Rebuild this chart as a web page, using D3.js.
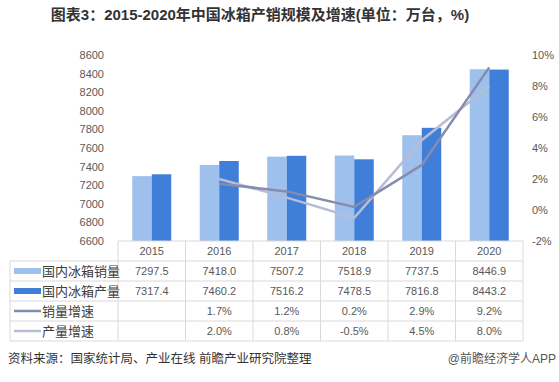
<!DOCTYPE html>
<html>
<head>
<meta charset="utf-8">
<script src="https://d3js.org/d3.v7.min.js"></script>
<style>
  body { margin: 0; background: #fff; }
  svg { display: block; font-family: "Liberation Sans", "Noto Sans CJK SC", sans-serif; }
</style>
</head>
<body>
<div id="chart"></div>
<script>
// 数据
var years = ["2015", "2016", "2017", "2018", "2019", "2020"];
var sales = [7297.5, 7418.0, 7507.2, 7518.9, 7737.5, 8446.9];
var output = [7317.4, 7460.2, 7516.2, 7478.5, 7816.8, 8443.2];
var salesGrowth = [null, 1.7, 1.2, 0.2, 2.9, 9.2];
var outputGrowth = [null, 2.0, 0.8, -0.5, 4.5, 8.0];
var leftTicks = [6600, 6800, 7000, 7200, 7400, 7600, 7800, 8000, 8200, 8400, 8600];
var rightTicks = [-2, 0, 2, 4, 6, 8, 10];

var w = 559, h = 382;
var c1 = "#9dc0ec", c2 = "#3f7fd9", c3 = "#858cad", c4 = "#b7bdd4";

var svg = d3.select("#chart").append("svg").attr("width", w).attr("height", h);

// 标题
svg.append("text").attr("x", 260).attr("y", 20).attr("text-anchor", "middle")
  .attr("font-size", 15).attr("font-weight", "bold").attr("fill", "#333")
  .text("图表3：2015-2020年中国冰箱产销规模及增速(单位：万台，%)");

var x = d3.scaleBand().domain(years).range([118, 523]);
var xi = d3.scaleBand().domain(["s", "o"]).range([0, 39]);
var yL = d3.scaleLinear().domain([6600, 8600]).range([241, 55]);
var yR = d3.scaleLinear().domain([-2, 10]).range([241, 55]);
var off = (x.bandwidth() - 39) / 2;

// 柱
var g = svg.append("g");
years.forEach(function(yr, i) {
  [["s", sales[i], c1], ["o", output[i], c2]].forEach(function(b) {
    g.append("rect").attr("x", x(yr) + off + xi(b[0])).attr("y", yL(b[1]))
      .attr("width", xi.bandwidth()).attr("height", 241 - yL(b[1])).attr("fill", b[2]);
  });
});

// 左轴
var yAxisL = d3.axisLeft(yL).tickValues(leftTicks).tickSize(0).tickPadding(0).tickFormat(d3.format("d"));
svg.append("g").attr("transform", "translate(104,0)").call(yAxisL)
  .call(function(s) { s.select(".domain").remove(); })
  .selectAll("text").attr("font-size", 11).attr("fill", "#595959");

// 右轴
var yAxisR = d3.axisRight(yR).tickValues(rightTicks).tickSize(0).tickPadding(0)
  .tickFormat(function(d) { return d + "%"; });
svg.append("g").attr("transform", "translate(532,0)").call(yAxisR)
  .call(function(s) { s.select(".domain").remove(); })
  .selectAll("text").attr("font-size", 11).attr("fill", "#595959");

// 折线
var line = d3.line()
  .defined(function(d) { return d != null; })
  .x(function(d, i) { return x(years[i]) + x.bandwidth() / 2; })
  .y(function(d) { return yR(d); });
svg.append("path").datum(outputGrowth).attr("d", line).attr("fill", "none")
  .attr("stroke", c4).attr("stroke-width", 2.5);
svg.append("path").datum(salesGrowth).attr("d", line).attr("fill", "none")
  .attr("stroke", c3).attr("stroke-width", 2.5);

// 表格
var rows = [
  {name: "国内冰箱销量", vals: sales.map(function(d) { return d.toFixed(1); }), type: "bar", color: c1},
  {name: "国内冰箱产量", vals: output.map(function(d) { return d.toFixed(1); }), type: "bar", color: c2},
  {name: "销量增速", vals: salesGrowth.map(function(d) { return d == null ? "" : d.toFixed(1) + "%"; }), type: "line", color: c3},
  {name: "产量增速", vals: outputGrowth.map(function(d) { return d == null ? "" : d.toFixed(1) + "%"; }), type: "line", color: c4}
];
var rowY = d3.scaleBand().domain(d3.range(rows.length)).range([261, 341]);
var grid = "#d9d9d9";
var t = svg.append("g");

// 表格线
t.append("line").attr("x1", 118).attr("x2", 523).attr("y1", 241).attr("y2", 241).attr("stroke", grid);
d3.range(rows.length + 1).forEach(function(i) {
  var yy = 261 + i * rowY.bandwidth();
  t.append("line").attr("x1", 10).attr("x2", 523).attr("y1", yy).attr("y2", yy).attr("stroke", grid);
});
t.append("line").attr("x1", 10).attr("x2", 10).attr("y1", 261).attr("y2", 341).attr("stroke", grid);
years.forEach(function(yr) {
  t.append("line").attr("x1", x(yr)).attr("x2", x(yr)).attr("y1", 241).attr("y2", 341).attr("stroke", grid);
});
t.append("line").attr("x1", 523).attr("x2", 523).attr("y1", 241).attr("y2", 341).attr("stroke", grid);

// 年份
years.forEach(function(yr) {
  t.append("text").attr("x", x(yr) + x.bandwidth() / 2).attr("y", 255)
    .attr("text-anchor", "middle").attr("font-size", 11).attr("fill", "#595959").text(yr);
});

rows.forEach(function(r, i) {
  var cy = rowY(i) + rowY.bandwidth() / 2;
  if (r.type === "bar") {
    t.append("rect").attr("x", 14).attr("y", cy - 3).attr("width", 27).attr("height", 6).attr("fill", r.color);
  } else {
    t.append("line").attr("x1", 14).attr("x2", 41).attr("y1", cy).attr("y2", cy)
      .attr("stroke", r.color).attr("stroke-width", 2.5);
  }
  t.append("text").attr("x", 42).attr("y", cy + 5).attr("font-size", 13)
    .attr("fill", "#404040").text(r.name);
  r.vals.forEach(function(v, j) {
    t.append("text").attr("x", x(years[j]) + x.bandwidth() / 2).attr("y", cy + 4)
      .attr("text-anchor", "middle").attr("font-size", 11).attr("fill", "#595959").text(v);
  });
});

// 来源
svg.append("text").attr("x", 8).attr("y", 363).attr("font-size", 12.5).attr("fill", "#333")
  .text("资料来源：国家统计局、产业在线 前瞻产业研究院整理");
svg.append("text").attr("x", 556).attr("y", 363).attr("text-anchor", "end").attr("font-size", 12)
  .attr("fill", "#555").text("@前瞻经济学人APP");
</script>
</body>
</html>
